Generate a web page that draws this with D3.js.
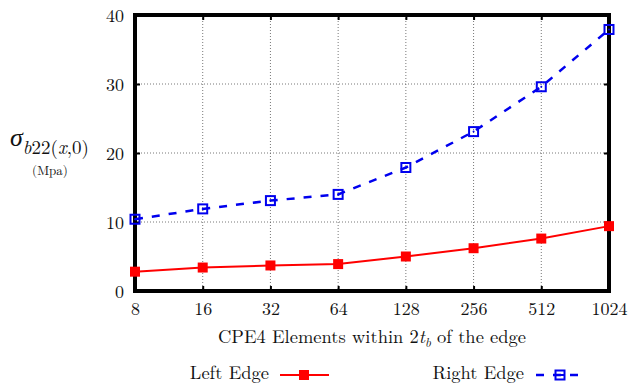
<!DOCTYPE html>
<html>
<head>
<meta charset="utf-8">
<script src="https://cdn.jsdelivr.net/npm/d3@7"></script>
<style>
  html, body { margin: 0; padding: 0; background: #fff; }
</style>
</head>
<body>
<svg id="chart" width="634" height="385"></svg>
<script>
// Element counts along the edge (evenly spaced on a log2 axis)
const categories = ["8", "16", "32", "64", "128", "256", "512", "1024"];
// Stress values (MPa)
const leftEdge  = [2.8, 3.4, 3.7, 3.9, 5.0, 6.2, 7.6, 9.4];
const rightEdge = [10.4, 11.9, 13.1, 14.0, 17.9, 23.1, 29.6, 37.9];
const yTicks = [0, 10, 20, 30, 40];

const FONT = "'Latin Modern Roman', 'Liberation Serif', serif";
const svg = d3.select("#chart").attr("font-family", FONT);
const m = { left: 135, right: 609, top: 15, bottom: 291 };

const x = d3.scalePoint().domain(categories).range([m.left, m.right]);
const y = d3.scaleLinear().domain([0, 40]).range([m.bottom, m.top]);

// Dotted grid
const grid = svg.append("g").attr("stroke", "#555").attr("stroke-width", 0.8)
  .attr("stroke-dasharray", "1,2");
grid.selectAll(".gx").data(categories.slice(1, -1)).join("line")
  .attr("x1", d => x(d)).attr("x2", d => x(d))
  .attr("y1", m.top).attr("y2", m.bottom);
grid.selectAll(".gy").data(yTicks.slice(1, -1)).join("line")
  .attr("x1", m.left).attr("x2", m.right)
  .attr("y1", d => y(d)).attr("y2", d => y(d));

// Inner tick marks (axes drawn with D3 axis generators, ticks pointing inward)
const tickLen = 5;
const axB = svg.append("g").attr("transform", `translate(0,${m.bottom})`)
  .call(d3.axisBottom(x).tickSize(-tickLen).tickPadding(11));
const axT = svg.append("g").attr("transform", `translate(0,${m.top})`)
  .call(d3.axisTop(x).tickSize(-tickLen).tickFormat(""));
const axL = svg.append("g").attr("transform", `translate(${m.left},0)`)
  .call(d3.axisLeft(y).tickValues(yTicks).tickSize(-tickLen).tickPadding(11));
const axR = svg.append("g").attr("transform", `translate(${m.right},0)`)
  .call(d3.axisRight(y).tickValues(yTicks).tickSize(-tickLen).tickFormat(""));
[axB, axT, axL, axR].forEach(a => {
  a.attr("font-family", FONT).attr("font-size", 18);
  a.select(".domain").remove();
  a.selectAll(".tick line").attr("stroke", "#000").attr("stroke-width", 2);
  a.selectAll("text").attr("fill", "#111").attr("font-family", FONT).attr("font-size", 18);
});
axB.selectAll("text").attr("dy", "0.71em");
axL.selectAll("text").attr("dy", "0.35em");

// Heavy frame
svg.append("rect")
  .attr("x", m.left).attr("y", m.top)
  .attr("width", m.right - m.left).attr("height", m.bottom - m.top)
  .attr("fill", "none").attr("stroke", "#000").attr("stroke-width", 4);

// Series lines
const line = d3.line().x((d, i) => x(categories[i])).y(d => y(d));
svg.append("path").datum(leftEdge).attr("d", line)
  .attr("fill", "none").attr("stroke", "#ff0000").attr("stroke-width", 2);
svg.append("path").datum(rightEdge).attr("d", line)
  .attr("fill", "none").attr("stroke", "#0000ee").attr("stroke-width", 2.5)
  .attr("stroke-dasharray", "8,9");

// Markers
const s = 10;
svg.append("g").selectAll("rect").data(leftEdge).join("rect")
  .attr("x", (d, i) => x(categories[i]) - s / 2).attr("y", d => y(d) - s / 2)
  .attr("width", s).attr("height", s).attr("fill", "#ff0000");
svg.append("g").selectAll("rect").data(rightEdge).join("rect")
  .attr("x", (d, i) => x(categories[i]) - s / 2 + 0.5).attr("y", d => y(d) - s / 2 + 0.5)
  .attr("width", s - 1).attr("height", s - 1)
  .attr("fill", "none").attr("stroke", "#0000ee").attr("stroke-width", 2);
svg.append("g").selectAll("circle").data(rightEdge).join("circle")
  .attr("cx", (d, i) => x(categories[i])).attr("cy", d => y(d))
  .attr("r", 1).attr("fill", "#0000ee");

// Y axis label
const yl = svg.append("text").attr("x", 10).attr("y", 146).attr("fill", "#111")
  .attr("font-family", FONT);
yl.append("tspan").attr("font-style", "italic").attr("font-size", 26).text("σ");
yl.append("tspan").attr("font-size", 19).attr("dy", 8).attr("font-style", "italic").text("b");
yl.append("tspan").attr("font-size", 19).text("22(");
yl.append("tspan").attr("font-size", 19).attr("font-style", "italic").text("x");
yl.append("tspan").attr("font-size", 19).text(",0)");
svg.append("text").attr("x", 50).attr("y", 175).attr("text-anchor", "middle")
  .attr("font-family", FONT).attr("font-size", 13).attr("fill", "#111").text("(Mpa)");

// X axis label
const xl = svg.append("text").attr("x", 372).attr("y", 343).attr("text-anchor", "middle")
  .attr("font-family", FONT).attr("font-size", 18.5).attr("fill", "#111");
xl.append("tspan").text("CPE4 Elements within 2");
xl.append("tspan").attr("font-style", "italic").text("t");
xl.append("tspan").attr("font-style", "italic").attr("font-size", 13).attr("dy", 4).text("b");
xl.append("tspan").attr("dy", -4).text(" of the edge");

// Legend
const lg = svg.append("g").attr("font-family", FONT).attr("font-size", 18.5).attr("fill", "#111");
lg.append("text").attr("x", 269).attr("y", 379).attr("text-anchor", "end").text("Left Edge");
lg.append("line").attr("x1", 280).attr("x2", 329).attr("y1", 375).attr("y2", 375)
  .attr("stroke", "#ff0000").attr("stroke-width", 2);
lg.append("rect").attr("x", 299).attr("y", 370).attr("width", 10).attr("height", 10).attr("fill", "#ff0000");
lg.append("text").attr("x", 524).attr("y", 379).attr("text-anchor", "end").text("Right Edge");
lg.append("line").attr("x1", 536).attr("x2", 584).attr("y1", 375).attr("y2", 375)
  .attr("stroke", "#0000ee").attr("stroke-width", 2.5).attr("stroke-dasharray", "8,9");
lg.append("rect").attr("x", 555.5).attr("y", 370.5).attr("width", 9).attr("height", 9)
  .attr("fill", "none").attr("stroke", "#0000ee").attr("stroke-width", 2);
lg.append("line").attr("x1", 556).attr("x2", 564).attr("y1", 375).attr("y2", 375)
  .attr("stroke", "#0000ee").attr("stroke-width", 2);
</script>
</body>
</html>
